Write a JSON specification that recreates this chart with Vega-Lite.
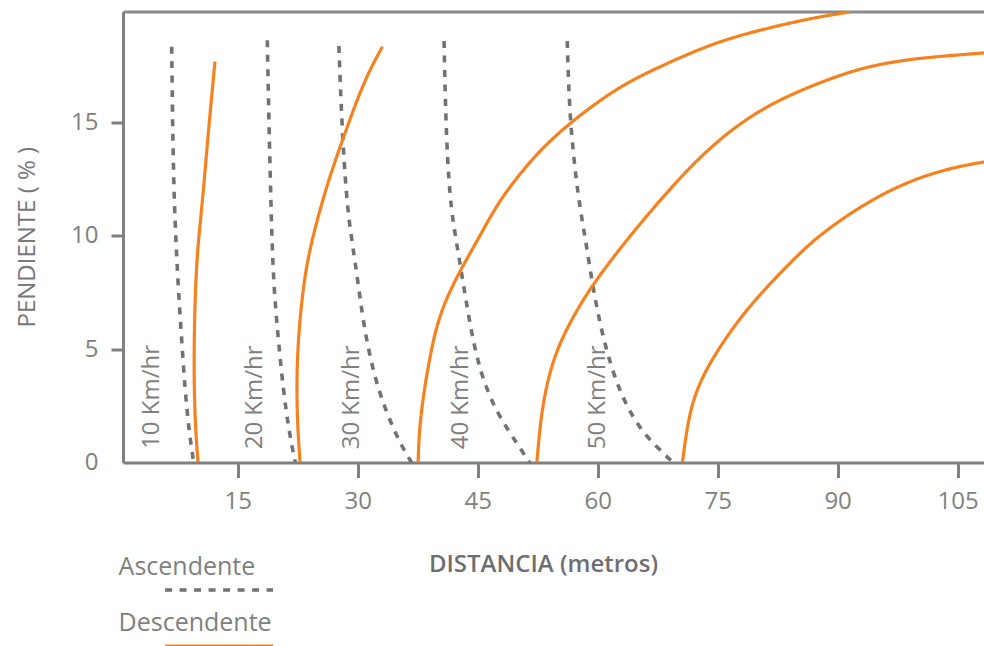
{
  "$schema": "https://vega.github.io/schema/vega-lite/v6.json",
  "width": 861,
  "height": 451,
  "autosize": {"type": "none"},
  "padding": {"left": 123, "top": 11.5, "right": 0, "bottom": 183.5},
  "background": "white",
  "config": {
    "view": {"stroke": null},
    "font": "Open Sans",
    "axis": {"grid": false, "labelFont": "Open Sans", "titleFont": "Open Sans"}
  },
  "datasets": {
    "curvas": [
      {"s":"A10","tipo":"Ascendente","i":0,"x":6.75,"y":18.32},
      {"s":"A10","tipo":"Ascendente","i":1,"x":6.87,"y":14.65},
      {"s":"A10","tipo":"Ascendente","i":2,"x":7.04,"y":11.71},
      {"s":"A10","tipo":"Ascendente","i":3,"x":7.29,"y":9.7},
      {"s":"A10","tipo":"Ascendente","i":4,"x":7.58,"y":7.6},
      {"s":"A10","tipo":"Ascendente","i":5,"x":8.0,"y":5.4},
      {"s":"A10","tipo":"Ascendente","i":6,"x":8.41,"y":3.19},
      {"s":"A10","tipo":"Ascendente","i":7,"x":8.95,"y":1.29},
      {"s":"A10","tipo":"Ascendente","i":8,"x":9.5,"y":0},
      {"s":"A20","tipo":"Ascendente","i":0,"x":18.7,"y":18.6},
      {"s":"A20","tipo":"Ascendente","i":1,"x":18.9,"y":15},
      {"s":"A20","tipo":"Ascendente","i":2,"x":19.25,"y":10},
      {"s":"A20","tipo":"Ascendente","i":3,"x":19.54,"y":7.6},
      {"s":"A20","tipo":"Ascendente","i":4,"x":20.08,"y":5.4},
      {"s":"A20","tipo":"Ascendente","i":5,"x":20.7,"y":3.19},
      {"s":"A20","tipo":"Ascendente","i":6,"x":21.45,"y":1.29},
      {"s":"A20","tipo":"Ascendente","i":7,"x":22.2,"y":0},
      {"s":"A30","tipo":"Ascendente","i":0,"x":27.65,"y":18.35},
      {"s":"A30","tipo":"Ascendente","i":1,"x":28.0,"y":15},
      {"s":"A30","tipo":"Ascendente","i":2,"x":28.6,"y":11.56},
      {"s":"A30","tipo":"Ascendente","i":3,"x":29.25,"y":9.8},
      {"s":"A30","tipo":"Ascendente","i":4,"x":29.9,"y":8.33},
      {"s":"A30","tipo":"Ascendente","i":5,"x":30.7,"y":6.13},
      {"s":"A30","tipo":"Ascendente","i":6,"x":31.95,"y":3.93},
      {"s":"A30","tipo":"Ascendente","i":7,"x":33.6,"y":2.17},
      {"s":"A30","tipo":"Ascendente","i":8,"x":35.5,"y":0.7},
      {"s":"A30","tipo":"Ascendente","i":9,"x":36.75,"y":0},
      {"s":"A40","tipo":"Ascendente","i":0,"x":40.8,"y":18.57},
      {"s":"A40","tipo":"Ascendente","i":1,"x":41.0,"y":15},
      {"s":"A40","tipo":"Ascendente","i":2,"x":41.5,"y":11.56},
      {"s":"A40","tipo":"Ascendente","i":3,"x":42.3,"y":9.8},
      {"s":"A40","tipo":"Ascendente","i":4,"x":43.0,"y":8.33},
      {"s":"A40","tipo":"Ascendente","i":5,"x":44.0,"y":6.13},
      {"s":"A40","tipo":"Ascendente","i":6,"x":45.3,"y":3.93},
      {"s":"A40","tipo":"Ascendente","i":7,"x":47.4,"y":2.17},
      {"s":"A40","tipo":"Ascendente","i":8,"x":49.9,"y":0.85},
      {"s":"A40","tipo":"Ascendente","i":9,"x":51.5,"y":0},
      {"s":"A50","tipo":"Ascendente","i":0,"x":56.2,"y":18.57},
      {"s":"A50","tipo":"Ascendente","i":1,"x":56.5,"y":15},
      {"s":"A50","tipo":"Ascendente","i":2,"x":57.6,"y":11.56},
      {"s":"A50","tipo":"Ascendente","i":3,"x":58.5,"y":9.8},
      {"s":"A50","tipo":"Ascendente","i":4,"x":59.45,"y":7.6},
      {"s":"A50","tipo":"Ascendente","i":5,"x":60.7,"y":5.4},
      {"s":"A50","tipo":"Ascendente","i":6,"x":62.6,"y":3.19},
      {"s":"A50","tipo":"Ascendente","i":7,"x":65.0,"y":1.6},
      {"s":"A50","tipo":"Ascendente","i":8,"x":67.3,"y":0.7},
      {"s":"A50","tipo":"Ascendente","i":9,"x":69.45,"y":0},
      {"s":"D10","tipo":"Descendente","i":0,"x":10.05,"y":0},
      {"s":"D10","tipo":"Descendente","i":1,"x":9.75,"y":1.29},
      {"s":"D10","tipo":"Descendente","i":2,"x":9.55,"y":3.19},
      {"s":"D10","tipo":"Descendente","i":3,"x":9.55,"y":5.4},
      {"s":"D10","tipo":"Descendente","i":4,"x":9.7,"y":7.6},
      {"s":"D10","tipo":"Descendente","i":5,"x":10.0,"y":9.5},
      {"s":"D10","tipo":"Descendente","i":6,"x":10.45,"y":10.98},
      {"s":"D10","tipo":"Descendente","i":7,"x":11.0,"y":13.18},
      {"s":"D10","tipo":"Descendente","i":8,"x":11.54,"y":15.38},
      {"s":"D10","tipo":"Descendente","i":9,"x":12.16,"y":17.66},
      {"s":"D20","tipo":"Descendente","i":0,"x":22.8,"y":0},
      {"s":"D20","tipo":"Descendente","i":1,"x":22.45,"y":1.73},
      {"s":"D20","tipo":"Descendente","i":2,"x":22.35,"y":3.93},
      {"s":"D20","tipo":"Descendente","i":3,"x":22.7,"y":6.13},
      {"s":"D20","tipo":"Descendente","i":4,"x":23.4,"y":8.33},
      {"s":"D20","tipo":"Descendente","i":5,"x":24.4,"y":10},
      {"s":"D20","tipo":"Descendente","i":6,"x":26.2,"y":12.3},
      {"s":"D20","tipo":"Descendente","i":7,"x":28.1,"y":14.2},
      {"s":"D20","tipo":"Descendente","i":8,"x":29.9,"y":15.97},
      {"s":"D20","tipo":"Descendente","i":9,"x":31.5,"y":17.3},
      {"s":"D20","tipo":"Descendente","i":10,"x":33.1,"y":18.32},
      {"s":"D30","tipo":"Descendente","i":0,"x":37.55,"y":0},
      {"s":"D30","tipo":"Descendente","i":1,"x":37.7,"y":1.5},
      {"s":"D30","tipo":"Descendente","i":2,"x":38.3,"y":3.2},
      {"s":"D30","tipo":"Descendente","i":3,"x":39.4,"y":5.4},
      {"s":"D30","tipo":"Descendente","i":4,"x":40.6,"y":6.86},
      {"s":"D30","tipo":"Descendente","i":5,"x":42.6,"y":8.33},
      {"s":"D30","tipo":"Descendente","i":6,"x":45.0,"y":9.8},
      {"s":"D30","tipo":"Descendente","i":7,"x":47.7,"y":11.56},
      {"s":"D30","tipo":"Descendente","i":8,"x":51.0,"y":13.03},
      {"s":"D30","tipo":"Descendente","i":9,"x":53.5,"y":14.0},
      {"s":"D30","tipo":"Descendente","i":10,"x":56.5,"y":14.94},
      {"s":"D30","tipo":"Descendente","i":11,"x":60.3,"y":15.97},
      {"s":"D30","tipo":"Descendente","i":12,"x":64.0,"y":16.8},
      {"s":"D30","tipo":"Descendente","i":13,"x":67.8,"y":17.44},
      {"s":"D30","tipo":"Descendente","i":14,"x":71.95,"y":18.1},
      {"s":"D30","tipo":"Descendente","i":15,"x":76.1,"y":18.65},
      {"s":"D30","tipo":"Descendente","i":16,"x":80.3,"y":19.05},
      {"s":"D30","tipo":"Descendente","i":17,"x":84.45,"y":19.4},
      {"s":"D30","tipo":"Descendente","i":18,"x":88.0,"y":19.65},
      {"s":"D30","tipo":"Descendente","i":19,"x":91.5,"y":19.85},
      {"s":"D40","tipo":"Descendente","i":0,"x":52.4,"y":0},
      {"s":"D40","tipo":"Descendente","i":1,"x":53.0,"y":2.46},
      {"s":"D40","tipo":"Descendente","i":2,"x":54.45,"y":4.66},
      {"s":"D40","tipo":"Descendente","i":3,"x":56.8,"y":6.37},
      {"s":"D40","tipo":"Descendente","i":4,"x":59.45,"y":7.89},
      {"s":"D40","tipo":"Descendente","i":5,"x":63.6,"y":9.8},
      {"s":"D40","tipo":"Descendente","i":6,"x":67.8,"y":11.56},
      {"s":"D40","tipo":"Descendente","i":7,"x":71.95,"y":13.18},
      {"s":"D40","tipo":"Descendente","i":8,"x":76.1,"y":14.5},
      {"s":"D40","tipo":"Descendente","i":9,"x":80.3,"y":15.53},
      {"s":"D40","tipo":"Descendente","i":10,"x":84.45,"y":16.26},
      {"s":"D40","tipo":"Descendente","i":11,"x":88.6,"y":16.85},
      {"s":"D40","tipo":"Descendente","i":12,"x":92.8,"y":17.36},
      {"s":"D40","tipo":"Descendente","i":13,"x":97.0,"y":17.66},
      {"s":"D40","tipo":"Descendente","i":14,"x":101.1,"y":17.85},
      {"s":"D40","tipo":"Descendente","i":15,"x":108.5,"y":18.05},
      {"s":"D50","tipo":"Descendente","i":0,"x":70.6,"y":0},
      {"s":"D50","tipo":"Descendente","i":1,"x":71.5,"y":2.46},
      {"s":"D50","tipo":"Descendente","i":2,"x":73.6,"y":4.22},
      {"s":"D50","tipo":"Descendente","i":3,"x":77.8,"y":6.42},
      {"s":"D50","tipo":"Descendente","i":4,"x":81.95,"y":8.04},
      {"s":"D50","tipo":"Descendente","i":5,"x":85.9,"y":9.45},
      {"s":"D50","tipo":"Descendente","i":6,"x":88.6,"y":10.24},
      {"s":"D50","tipo":"Descendente","i":7,"x":92.8,"y":11.27},
      {"s":"D50","tipo":"Descendente","i":8,"x":97.0,"y":12.08},
      {"s":"D50","tipo":"Descendente","i":9,"x":101.1,"y":12.67},
      {"s":"D50","tipo":"Descendente","i":10,"x":105.3,"y":13.06},
      {"s":"D50","tipo":"Descendente","i":11,"x":108.5,"y":13.25}
    ],
    "etiquetas": [
      {"t":"10 Km/hr","x":4.25,"y":0.6},
      {"t":"20 Km/hr","x":17.1,"y":0.58},
      {"t":"30 Km/hr","x":29.25,"y":0.58},
      {"t":"40 Km/hr","x":42.9,"y":0.58},
      {"t":"50 Km/hr","x":60.1,"y":0.58}
    ]
  },
  "encoding": {
    "y": {
      "field": "y", "type": "quantitative",
      "scale": {"domain": [0, 19.87], "nice": false, "zero": false},
      "axis": {
        "values": [0, 5, 10, 15],
        "title": "PENDIENTE ( % )",
        "titleFontSize": 24, "titleFontWeight": "normal", "titleColor": "#77787b",
        "titleAngle": 270, "titleX": -96, "titleY": 225.2, "titleAlign": "center", "titleBaseline": "middle",
        "labelFontSize": 24, "labelColor": "#808080", "labelPadding": 13,
        "tickSize": 12, "tickWidth": 3,
        "tickColor": {"condition": {"test": "datum.value == 0", "value": "transparent"}, "value": "#808080"},
        "domainColor": "#808080", "domainWidth": 3
      }
    }
  },
  "resolve": {"axis": {"x": "independent"}},
  "layer": [
    {
      "data": {"name": "curvas"},
      "mark": {"type": "line", "clip": true, "interpolate": "basis"},
      "encoding": {
        "x": {
          "field": "x", "type": "quantitative",
          "scale": {"domain": [0.66, 108.3], "nice": false, "zero": false},
          "axis": {
            "values": [15, 30, 45, 60, 75, 90, 105],
            "title": "DISTANCIA (metros)",
            "titleFontSize": 24, "titleFontWeight": 600, "titleColor": "#6d6e71",
            "titleX": 420, "titleY": 109, "titleAlign": "center", "titleBaseline": "alphabetic",
            "labelFontSize": 24, "labelColor": "#808080", "labelPadding": 12,
            "tickSize": 15, "tickWidth": 3, "tickColor": "#808080",
            "domainColor": "#808080", "domainWidth": 3
          }
        },
        "detail": {"field": "s"},
        "order": {"field": "i", "type": "quantitative"},
        "strokeWidth": {
          "field": "tipo", "type": "nominal",
          "scale": {"domain": ["Ascendente", "Descendente"], "range": [3.6, 3.2]},
          "legend": null
        },
        "color": {
          "field": "tipo", "type": "nominal",
          "scale": {"domain": ["Ascendente", "Descendente"], "range": ["#717275", "#f5821f"]},
          "legend": {
            "orient": "none", "legendX": 83.6, "legendY": 566, "direction": "vertical", "title": null,
            "symbolType": "M-10,0L10,0", "symbolSize": 116.64, "symbolStrokeWidth": 3, "symbolOffset": 0,
            "labelFontSize": 25, "labelColor": "#7f7f7f", "labelFont": "Open Sans", "labelOffset": -113,
            "rowPadding": 13, "padding": 0,
            "encode": {"labels": {"update": {"dy": {"value": -23}}}}
          }
        },
        "strokeDash": {
          "field": "tipo", "type": "nominal",
          "scale": {"domain": ["Ascendente", "Descendente"], "range": [[7, 7.5], [1, 0]]},
          "legend": {
            "orient": "none", "legendX": 83.6, "legendY": 566, "direction": "vertical", "title": null,
            "symbolType": "M-10,0L10,0", "symbolSize": 116.64, "symbolStrokeWidth": 3, "symbolOffset": 0,
            "labelFontSize": 25, "labelColor": "#7f7f7f", "labelFont": "Open Sans", "labelOffset": -113,
            "rowPadding": 13, "padding": 0,
            "encode": {"labels": {"update": {"dy": {"value": -23}}}}
          }
        }
      }
    },
    {
      "data": {"name": "etiquetas"},
      "mark": {"type": "text", "angle": 270, "align": "left", "baseline": "middle", "fontSize": 24, "color": "#808080", "font": "Open Sans"},
      "encoding": {
        "x": {
          "field": "x", "type": "quantitative",
          "scale": {"domain": [0.66, 108.3], "nice": false, "zero": false},
          "axis": {"orient": "top", "labels": false, "ticks": false, "title": null, "domainColor": "#8a8a8a", "domainWidth": 3}
        },
        "text": {"field": "t"}
      }
    }
  ]
}
